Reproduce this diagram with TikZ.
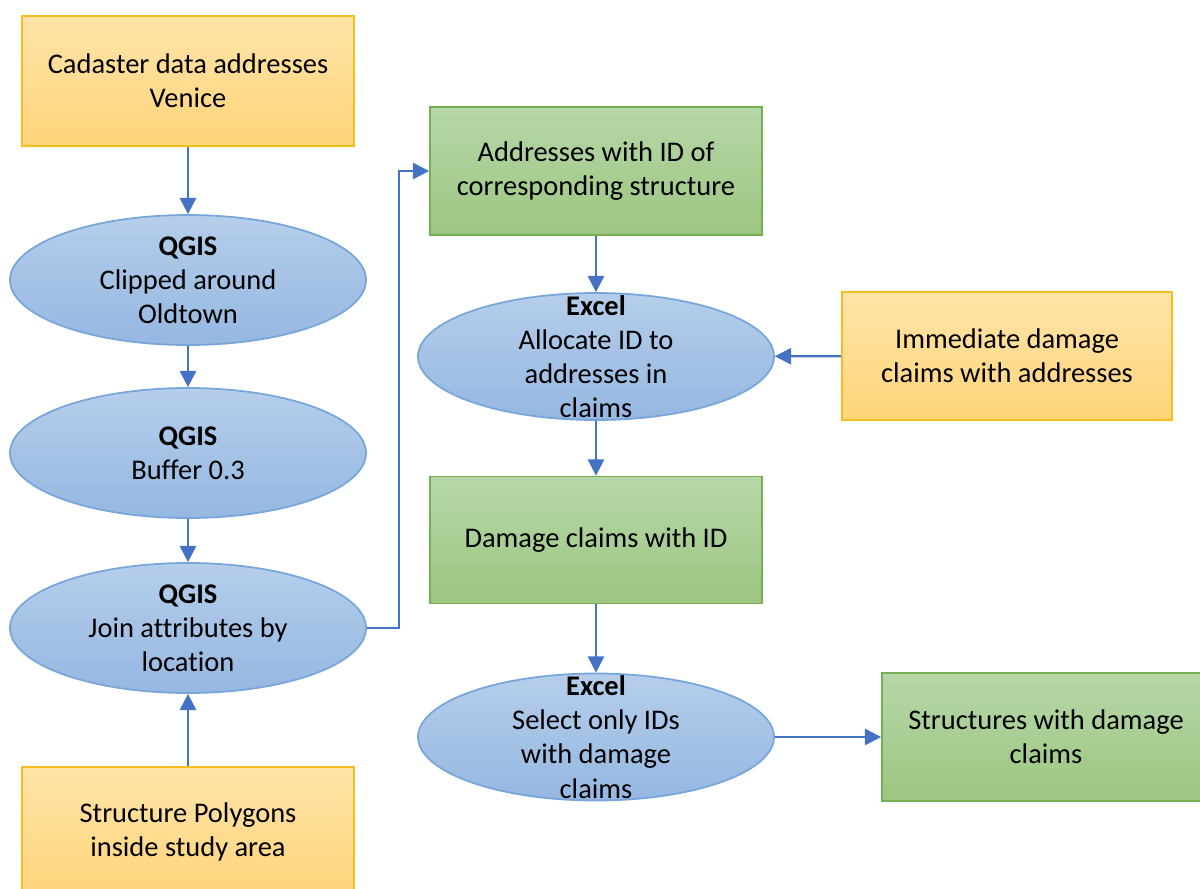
\documentclass[tikz,border=0pt]{standalone}
\usepackage{fontspec}
\setmainfont{Carlito}[Ligatures=CommonOff]
\usetikzlibrary{shapes.geometric,arrows.meta,positioning,calc}
\definecolor{orangeline}{HTML}{F5BE20}
\definecolor{orangetop}{HTML}{FFE4A8}
\definecolor{orangebot}{HTML}{FFD47A}
\definecolor{greenline}{HTML}{74B050}
\definecolor{greentop}{HTML}{B6D7A8}
\definecolor{greenbot}{HTML}{9CC681}
\definecolor{blueline}{HTML}{78A5DA}
\definecolor{bluetop}{HTML}{B5CEEB}
\definecolor{bluebot}{HTML}{95B7E1}
\definecolor{arrowblue}{HTML}{4472C4}

\begin{document}
\begin{tikzpicture}[
    >={Triangle[length=4.6pt,width=4.6pt]},
    font=\fontsize{8.1}{9.7}\selectfont,
    datbox/.style={
        draw=orangeline,
        top color=orangetop,
        bottom color=orangebot,
        line width=0.5pt,
        minimum width=3.32cm,
        minimum height=1.3cm,
        inner sep=0pt,
        align=center
    },
    resbox/.style={
        draw=greenline,
        top color=greentop,
        bottom color=greenbot,
        line width=0.5pt,
        minimum width=3.32cm,
        minimum height=1.28cm,
        inner sep=0pt,
        align=center
    },
    proc/.style={
        ellipse,
        draw=blueline,
        top color=bluetop,
        bottom color=bluebot,
        line width=0.5pt,
        minimum width=3.56cm,
        minimum height=1.3cm,
        inner sep=0pt
    },
    arr/.style={->, draw=arrowblue, line width=0.6pt}
]
\useasboundingbox (0,0) rectangle (12,-8.88);

% left column
\node[datbox] (cadaster) at (1.88,-0.81) {Cadaster data addresses\\Venice};
\node[proc, label={[align=center]center:\textbf{QGIS}\\Clipped around\\Oldtown}] (clip) at (1.88,-2.80) {};
\node[proc, label={[align=center]center:\textbf{QGIS}\\Buffer 0.3}] (buffer) at (1.88,-4.53) {};
\node[proc, label={[align=center]center:\textbf{QGIS}\\Join attributes by\\location}] (join) at (1.88,-6.28) {};
\node[datbox] (polys) at (1.88,-8.32) {Structure Polygons\\inside study area};

% middle column
\node[resbox] (addrid) at (5.96,-1.71) {Addresses with ID of\\corresponding structure};
\node[proc, minimum height=1.27cm, label={[align=center]center:\textbf{Excel}\\Allocate ID to\\addresses in\\claims}] (allocate) at (5.96,-3.565) {};
\node[resbox, minimum height=1.27cm] (claimsid) at (5.96,-5.40) {Damage claims with ID};
\node[proc, minimum height=1.27cm, label={[align=center]center:\textbf{Excel}\\Select only IDs\\with damage\\claims}] (select) at (5.96,-7.37) {};

% right column
\node[datbox, minimum width=3.30cm, minimum height=1.28cm] (claimsin) at (10.07,-3.56) {Immediate damage\\claims with addresses};
\node[resbox, minimum width=3.28cm] (damaged) at (10.46,-7.37) {Structures with damage\\claims};

\draw[arr] (cadaster) -- (clip);
\draw[arr] (clip) -- (buffer);
\draw[arr] (buffer) -- (join);
\draw[arr] (polys) -- (join);
\draw[arr] (join.east) -- ++(0.32,0) |- (addrid.west);
\draw[arr] (addrid) -- (allocate);
\draw[arr] (claimsin) -- (allocate);
\draw[arr] (allocate) -- (claimsid);
\draw[arr] (claimsid) -- (select);
\draw[arr] (select) -- (damaged);

\end{tikzpicture}
\end{document}
